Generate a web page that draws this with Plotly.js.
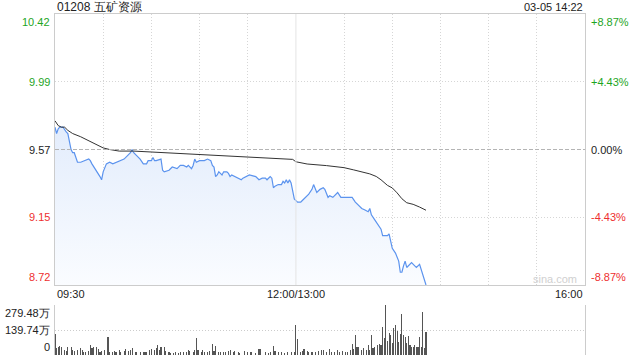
<!DOCTYPE html>
<html><head><meta charset="utf-8">
<script src="https://cdn.plot.ly/plotly-3.0.1.min.js"></script>
<style>html,body{margin:0;padding:0;background:#fff}#c{width:640px;height:360px}</style>
</head><body><div id="c"></div>
<script>
const chartTitle = "01208 五矿资源";
const stamp = "03-05 14:22";
const prevClose = 9.57;
const priceTickLabels = ["10.42", "9.99", "9.57", "9.15", "8.72"];
const pctTickLabels = ["+8.87%", "+4.43%", "0.00%", "-4.43%", "-8.87%"];
const timeTickLabels = ["09:30", "12:00/13:00", "16:00"];
const timeTickMinutes = [0, 150, 330];
const volTickLabels = ["279.48万", "139.74万", "0"];
const volMax = 279.48;
const sessionMinutes = 330;

// trading minutes since 09:30 (lunch removed)
const priceMinutes = [0,1,2,3,5,6,7,8,9,10,11,12,14,16,21,22,23,25,28,29,30,32,34,36,38,40,43,45,47,48,49,51,53,55,57,58,60,61,62,63,65,66,67,68,71,73,76,78,80,82,83,85,86,87,88,90,93,95,97,98,99,100,101,102,103,104,105,107,108,109,110,112,114,116,117,119,121,125,127,129,131,132,134,135,136,137,139,141,142,143,144,145,146,147,148,149,151,153,154,156,158,160,161,163,165,167,168,170,171,173,175,176,178,181,183,185,187,189,191,193,195,196,197,199,201,203,204,207,208,209,210,212,214,215,216,217,218,219,220,222,224,225,227,229,231];
const prices = [9.71,9.67,9.70,9.71,9.71,9.69,9.68,9.67,9.61,9.57,9.55,9.55,9.49,9.49,9.51,9.50,9.48,9.45,9.40,9.38,9.43,9.48,9.49,9.48,9.49,9.50,9.51,9.53,9.55,9.57,9.55,9.53,9.51,9.48,9.48,9.50,9.50,9.52,9.50,9.50,9.51,9.51,9.44,9.43,9.44,9.46,9.45,9.47,9.47,9.46,9.47,9.45,9.47,9.51,9.49,9.50,9.50,9.51,9.50,9.47,9.46,9.40,9.41,9.43,9.42,9.41,9.43,9.43,9.42,9.40,9.41,9.40,9.39,9.38,9.39,9.40,9.41,9.40,9.38,9.39,9.39,9.38,9.40,9.39,9.33,9.34,9.35,9.35,9.37,9.36,9.38,9.36,9.38,9.36,9.31,9.26,9.24,9.24,9.25,9.27,9.29,9.32,9.35,9.30,9.32,9.33,9.32,9.27,9.28,9.27,9.29,9.30,9.27,9.27,9.27,9.27,9.24,9.22,9.20,9.19,9.18,9.20,9.16,9.13,9.10,9.07,9.03,9.03,9.04,9.00,8.95,8.92,8.87,8.80,8.80,8.84,8.87,8.83,8.84,8.86,8.84,8.83,8.85,8.79,8.72];

const avgMinutes = [0,2,4,6,8,11,16,20,23,26,30,34,40,49,59,70,80,90,103,111,132,148,150,157,169,180,186,190,196,200,203,207,210,213,216,219,223,227,231];
const avgPrices = [9.75,9.72,9.71,9.71,9.69,9.67,9.65,9.63,9.62,9.60,9.58,9.57,9.56,9.56,9.555,9.55,9.545,9.54,9.53,9.528,9.52,9.508,9.493,9.479,9.469,9.456,9.442,9.432,9.417,9.401,9.38,9.345,9.329,9.298,9.261,9.236,9.226,9.209,9.189];

const volMinutes = [0,1,2,3,4,6,7,8,10,11,12,14,16,17,18,19,21,22,23,24,26,27,28,29,31,33,34,36,37,38,40,41,43,44,46,47,48,50,51,53,55,56,57,59,60,62,63,64,65,66,68,69,71,72,74,75,77,78,80,82,83,84,86,87,88,89,91,92,93,95,96,98,99,100,102,103,105,106,108,109,111,112,114,
115,118,120,122,125,127,128,131,133,134,136,137,139,141,143,145,147,149,150,151,153,154,155,157,158,160,162,164,166,167,169,171,172,174,176,177,179,181,182,184,185,186,187,188,189,191,192,194,195,196,197,198,199,201,202,203,204,205,206,207,208,209,210,211,212,213,214,215,216,217,218,219,220,221,222,223,224,225,226,227,228,229,230,231];
const volumes = [118,38,47,53,42,28,23,42,42,28,23,28,38,28,19,19,23,57,38,47,42,34,19,23,28,99,19,15,23,15,28,19,23,34,23,28,38,19,15,15,19,15,19,28,34,28,38,57,28,42,47,23,15,11,11,15,11,15,15,19,28,23,15,28,95,28,19,28,19,15,23,61,23,51,19,15,19,15,23,28,19,23,15,
10,23,15,15,10,32,34,15,10,15,53,23,15,15,10,15,15,15,165,89,15,23,34,23,15,15,15,23,28,28,19,34,15,15,28,15,23,15,15,28,61,32,114,47,42,28,38,28,57,28,114,38,47,57,61,57,158,95,279.48,76,124,110,67,152,167,133,72,118,228,110,99,67,104,57,47,42,57,42,47,99,47,238,38,127];

// ---- layout helpers ----
const W = 640, H = 360, ML = 55, MR = 55, MT = 14, MB = 5;
const PH = H - MT - MB, PW = W - ML - MR;
const py = p => (H - MB - p) / PH;
const px = p => (p - ML) / PW;
const yMax = parseFloat(priceTickLabels[0]);
const yMin = parseFloat(priceTickLabels[4]);
const gridVals = [0, 1, 2, 3, 4].map(i => yMax - i * (yMax - yMin) / 4);
const FONT = "Liberation Sans, Arial, sans-serif";
const GREEN = "#1ea51e", RED = "#ee2f2f", DARK = "#222";
const txtColors = [GREEN, GREEN, DARK, RED, RED];

const traces = [
  {x: priceMinutes, y: prices, type: 'scatter', mode: 'lines',
   line: {color: '#5b93ee', width: 1.2}, fill: 'tozeroy',
   fillgradient: {type: 'vertical', start: yMin, stop: 9.75,
     colorscale: [[0, 'rgba(250,252,255,1)'], [1, 'rgba(226,236,252,1)']]},
   hoverinfo: 'skip', xaxis: 'x', yaxis: 'y'},
  {x: avgMinutes, y: avgPrices, type: 'scatter', mode: 'lines',
   line: {color: '#333', width: 1}, hoverinfo: 'skip', xaxis: 'x', yaxis: 'y'},
  {x: volMinutes, y: volumes, type: 'bar', marker: {color: '#555', line: {width: 0}},
   width: 0.7, hoverinfo: 'skip', xaxis: 'x2', yaxis: 'y2'}
];

const ann = [];
const base = {showarrow: false, font: {family: FONT, size: 11}};
ann.push(Object.assign({}, base, {text: chartTitle, xref: 'paper', yref: 'paper', x: 0, y: py(7), xanchor: 'left', yanchor: 'middle', font: {family: FONT, size: 12, color: '#222'}}));
ann.push(Object.assign({}, base, {text: stamp, xref: 'paper', yref: 'paper', x: px(585), y: py(7), xanchor: 'right', yanchor: 'middle', font: {family: FONT, size: 11, color: '#222'}}));
priceTickLabels.forEach((t, i) => {
  const ya = i === 0 ? 'top' : (i === 4 ? 'bottom' : 'middle');
  ann.push(Object.assign({}, base, {text: t, xref: 'paper', yref: 'y', x: px(52), y: gridVals[i], xanchor: 'right', yanchor: ya, font: {family: FONT, size: 11, color: txtColors[i]}}));
  ann.push(Object.assign({}, base, {text: pctTickLabels[i], xref: 'paper', yref: 'y', x: px(589), y: gridVals[i], xanchor: 'left', yanchor: ya, font: {family: FONT, size: 11, color: txtColors[i]}}));
});
timeTickLabels.forEach((t, i) => {
  const xa = i === 0 ? 'left' : (i === 2 ? 'right' : 'center');
  ann.push(Object.assign({}, base, {text: t, xref: 'x', yref: 'paper', x: timeTickMinutes[i], y: py(294), xanchor: xa, yanchor: 'middle', font: {family: FONT, size: 11, color: '#222'}}));
});
const volVals = [volMax, volMax / 2, 0];
volTickLabels.forEach((t, i) => {
  const ya = i === 0 ? 'top' : (i === 2 ? 'bottom' : 'middle');
  ann.push(Object.assign({}, base, {text: t, xref: 'paper', yref: 'y2', x: px(52), y: volVals[i], xanchor: 'right', yanchor: ya, font: {family: FONT, size: 11, color: '#222'}}));
});
ann.push(Object.assign({}, base, {text: 'sina.com', xref: 'paper', yref: 'paper', x: px(579), y: py(279), xanchor: 'right', yanchor: 'middle', font: {family: FONT, size: 11, color: '#d0d0d0'}}));

const vGrid = [];
for (let m = 30; m < sessionMinutes; m += 30) if (m !== 150) vGrid.push(m);

const layout = {
  width: W, height: H, margin: {l: ML, r: MR, t: MT, b: MB, pad: 0},
  paper_bgcolor: '#fff', plot_bgcolor: '#fff', showlegend: false, bargap: 0,
  xaxis: {range: [0, sessionMinutes], tickvals: vGrid, showticklabels: false, ticks: '',
    showgrid: true, gridcolor: '#d6d6d6', griddash: '1px,2px', gridwidth: 1,
    showline: true, mirror: true, linecolor: '#cccccc', linewidth: 1, zeroline: false, anchor: 'y', fixedrange: true},
  yaxis: {domain: [py(285), 1], range: [yMin, yMax], tickvals: [gridVals[1], gridVals[3]], showticklabels: false, ticks: '',
    showgrid: true, gridcolor: '#d6d6d6', griddash: '1px,2px', gridwidth: 1,
    showline: true, mirror: true, linecolor: '#cccccc', linewidth: 1, zeroline: false, anchor: 'x', fixedrange: true},
  xaxis2: {range: [0, sessionMinutes], showgrid: false, showticklabels: false, ticks: '', zeroline: false, showline: false, anchor: 'y2', fixedrange: true},
  yaxis2: {domain: [0, py(305)], range: [0, volMax], tickvals: [volMax / 2, volMax], showticklabels: false, ticks: '',
    showgrid: true, gridcolor: '#cccccc', griddash: '1px,2px', gridwidth: 1,
    showline: true, mirror: true, linecolor: '#cccccc', linewidth: 1, zeroline: false, anchor: 'x2', fixedrange: true},
  shapes: [
    {type: 'line', xref: 'paper', yref: 'y', x0: 0, x1: 1, y0: prevClose, y1: prevClose, line: {color: '#b4b4b4', width: 1, dash: '4px,2px'}},
    {type: 'line', xref: 'x', yref: 'y', x0: timeTickMinutes[1], x1: timeTickMinutes[1], y0: yMin, y1: yMax, line: {color: '#e4e4e4', width: 1}}
  ],
  annotations: ann
};

Plotly.newPlot('c', traces, layout, {staticPlot: true, displayModeBar: false});
</script>
</body></html>
